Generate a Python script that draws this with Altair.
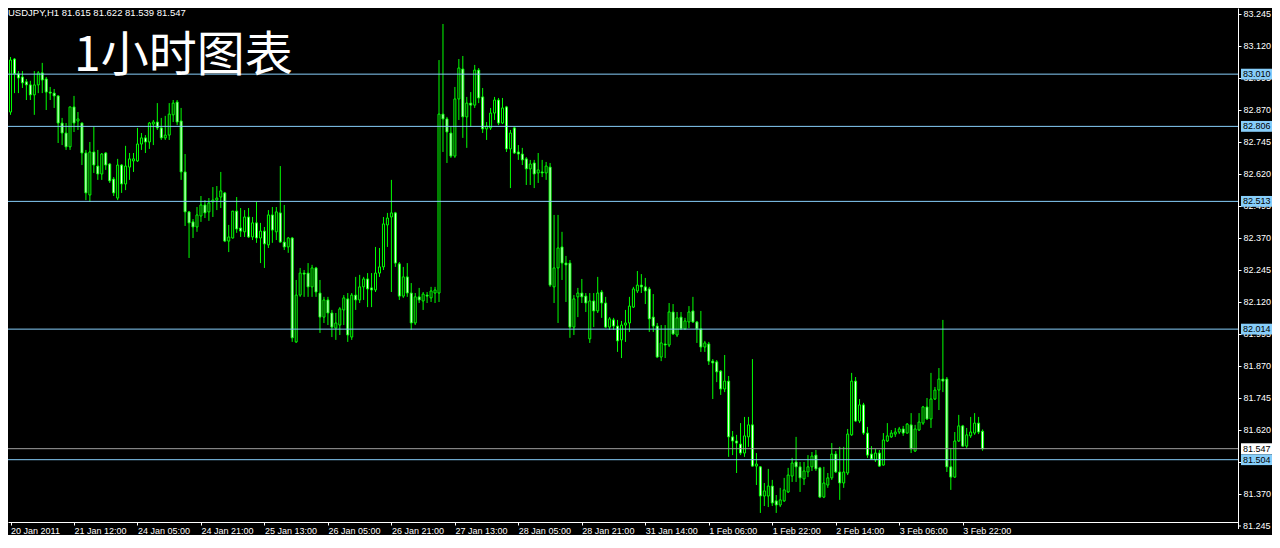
import altair as alt
import pandas as pd

# ---------------- data ----------------
symbol_header = "USDJPY,H1  81.615 81.622 81.539 81.547"
big_title = "1小时图表"

open_ = [82.862, 83.069, 83.011, 82.999, 82.980, 82.968, 82.929, 82.968, 83.015, 82.991,
         82.940, 82.936, 82.925, 82.819, 82.780, 82.726, 82.882, 82.827, 82.819, 82.702,
         82.538, 82.706, 82.651, 82.620, 82.702, 82.659, 82.600, 82.526, 82.655, 82.581,
         82.647, 82.671, 82.671, 82.737, 82.761, 82.745, 82.815, 82.823, 82.800, 82.761,
         82.772, 82.851, 82.901, 82.827, 82.628, 82.472, 82.433, 82.413, 82.456, 82.499,
         82.472, 82.511, 82.518, 82.530, 82.546, 82.358, 82.370, 82.475, 82.409, 82.394,
         82.452, 82.374, 82.429, 82.370, 82.397, 82.343, 82.460, 82.394, 82.468, 82.354,
         82.335, 82.370, 81.964, 82.147, 82.233, 82.233, 82.179, 82.253, 82.155, 82.061,
         82.128, 82.077, 82.018, 82.030, 82.089, 82.132, 81.983, 82.147, 82.128, 82.179,
         82.210, 82.175, 82.167, 82.233, 82.257, 82.421, 82.452, 82.468, 82.269, 82.143,
         82.218, 82.155, 82.038, 82.140, 82.124, 82.147, 82.136, 82.155, 82.155, 82.854,
         82.835, 82.780, 82.690, 82.913, 83.030, 82.843, 82.897, 82.889, 83.026, 82.921,
         82.796, 82.800, 82.858, 82.909, 82.819, 82.882, 82.718, 82.800, 82.706, 82.698,
         82.679, 82.640, 82.663, 82.624, 82.628, 82.624, 82.647, 82.179, 82.253, 82.335,
         82.272, 82.272, 82.022, 82.140, 82.155, 82.143, 81.976, 82.124, 82.085, 82.159,
         82.116, 82.022, 82.050, 82.026, 81.972, 82.030, 82.038, 82.100, 82.163, 82.186,
         82.179, 82.171, 82.061, 82.026, 81.905, 81.956, 81.952, 82.081, 81.991, 82.061,
         82.015, 82.042, 82.085, 82.042, 82.015, 81.944, 81.956, 81.889, 81.886, 81.850,
         81.780, 81.811, 81.593, 81.577, 81.565, 81.530, 81.593, 81.640, 81.479, 81.476,
         81.362, 81.362, 81.401, 81.343, 81.327, 81.343, 81.378, 81.440, 81.495, 81.476,
         81.429, 81.456, 81.476, 81.522, 81.472, 81.358, 81.405, 81.433, 81.526, 81.456,
         81.413, 81.452, 81.601, 81.811, 81.655, 81.718, 81.608, 81.526, 81.503, 81.530,
         81.483, 81.577, 81.593, 81.604, 81.612, 81.624, 81.608, 81.640, 81.538, 81.620,
         81.647, 81.710, 81.663, 81.741, 81.776, 81.819, 81.819, 81.476, 81.436, 81.577,
         81.636, 81.557, 81.597, 81.608, 81.647, 81.615]

high = [83.077, 83.073, 83.022, 83.022, 82.991, 82.984, 83.022, 83.022, 83.054, 82.999,
        82.960, 82.952, 82.927, 82.839, 82.819, 82.882, 82.925, 82.862, 82.821, 82.714,
        82.745, 82.804, 82.714, 82.702, 82.706, 82.663, 82.608, 82.679, 82.659, 82.730,
        82.702, 82.702, 82.800, 82.780, 82.772, 82.823, 82.831, 82.897, 82.839, 82.847,
        82.897, 82.909, 82.909, 82.878, 82.698, 82.475, 82.444, 82.491, 82.534, 82.518,
        82.526, 82.569, 82.573, 82.628, 82.550, 82.421, 82.475, 82.530, 82.487, 82.479,
        82.487, 82.452, 82.511, 82.429, 82.413, 82.479, 82.491, 82.491, 82.651, 82.499,
        82.374, 82.374, 82.206, 82.253, 82.245, 82.272, 82.265, 82.257, 82.206, 82.140,
        82.140, 82.089, 82.077, 82.100, 82.147, 82.155, 82.155, 82.218, 82.226, 82.218,
        82.233, 82.233, 82.335, 82.331, 82.452, 82.468, 82.597, 82.472, 82.276, 82.257,
        82.272, 82.194, 82.155, 82.175, 82.159, 82.159, 82.179, 82.179, 83.065, 83.206,
        82.843, 82.804, 82.960, 83.069, 83.081, 82.921, 82.940, 83.046, 83.034, 82.956,
        82.823, 82.878, 82.921, 82.917, 82.917, 82.886, 82.792, 82.804, 82.733, 82.722,
        82.686, 82.675, 82.675, 82.702, 82.675, 82.667, 82.663, 82.460, 82.460, 82.394,
        82.300, 82.284, 82.147, 82.175, 82.210, 82.155, 82.155, 82.155, 82.218, 82.167,
        82.140, 82.061, 82.058, 82.050, 82.046, 82.089, 82.140, 82.179, 82.241, 82.229,
        82.214, 82.179, 82.151, 82.038, 82.030, 82.030, 82.116, 82.112, 82.081, 82.081,
        82.058, 82.104, 82.140, 82.046, 82.085, 81.968, 81.964, 81.897, 81.893, 81.854,
        81.913, 81.831, 81.616, 81.601, 81.647, 81.671, 81.671, 81.897, 81.530, 81.479,
        81.413, 81.468, 81.425, 81.366, 81.394, 81.433, 81.472, 81.511, 81.593, 81.495,
        81.495, 81.522, 81.534, 81.542, 81.476, 81.476, 81.452, 81.569, 81.538, 81.554,
        81.554, 81.624, 81.843, 81.827, 81.741, 81.726, 81.632, 81.557, 81.546, 81.542,
        81.608, 81.647, 81.620, 81.628, 81.632, 81.636, 81.647, 81.686, 81.640, 81.686,
        81.714, 81.745, 81.843, 81.788, 81.862, 82.050, 81.827, 81.550, 81.612, 81.679,
        81.640, 81.628, 81.671, 81.686, 81.671, 81.622]

low = [82.851, 82.936, 82.936, 82.956, 82.909, 82.909, 82.851, 82.936, 82.936, 82.870,
       82.909, 82.878, 82.741, 82.733, 82.714, 82.714, 82.784, 82.792, 82.655, 82.518,
       82.511, 82.624, 82.597, 82.597, 82.636, 82.585, 82.534, 82.518, 82.546, 82.557,
       82.597, 82.628, 82.667, 82.714, 82.702, 82.718, 82.733, 82.792, 82.753, 82.753,
       82.753, 82.823, 82.811, 82.597, 82.417, 82.292, 82.370, 82.394, 82.433, 82.448,
       82.437, 82.452, 82.479, 82.487, 82.354, 82.315, 82.368, 82.390, 82.374, 82.374,
       82.370, 82.362, 82.351, 82.272, 82.253, 82.331, 82.351, 82.362, 82.351, 82.323,
       82.312, 81.964, 81.960, 82.140, 82.140, 82.140, 82.140, 82.140, 81.999, 82.038,
       82.030, 81.983, 81.972, 81.991, 82.030, 81.964, 81.972, 82.089, 82.116, 82.128,
       82.100, 82.100, 82.159, 82.218, 82.245, 82.335, 82.159, 82.257, 82.128, 82.136,
       82.140, 82.011, 82.030, 82.116, 82.089, 82.116, 82.120, 82.116, 82.120, 82.706,
       82.663, 82.683, 82.683, 82.831, 82.761, 82.722, 82.804, 82.878, 82.897, 82.780,
       82.753, 82.792, 82.831, 82.811, 82.815, 82.706, 82.565, 82.698, 82.675, 82.655,
       82.577, 82.577, 82.565, 82.585, 82.608, 82.597, 82.179, 82.116, 82.038, 82.206,
       82.120, 81.980, 81.991, 82.061, 82.116, 82.081, 81.960, 82.022, 82.077, 82.058,
       82.018, 82.011, 82.011, 81.925, 81.901, 81.964, 82.003, 82.097, 82.155, 82.155,
       82.112, 82.003, 82.003, 81.901, 81.889, 81.901, 81.944, 81.991, 81.983, 82.011,
       82.011, 82.018, 82.038, 81.960, 81.925, 81.925, 81.874, 81.741, 81.807, 81.757,
       81.768, 81.515, 81.522, 81.452, 81.522, 81.515, 81.554, 81.476, 81.405, 81.296,
       81.323, 81.319, 81.323, 81.296, 81.319, 81.339, 81.374, 81.417, 81.417, 81.378,
       81.405, 81.436, 81.460, 81.460, 81.354, 81.354, 81.394, 81.425, 81.452, 81.347,
       81.394, 81.444, 81.597, 81.651, 81.647, 81.601, 81.511, 81.503, 81.495, 81.476,
       81.481, 81.573, 81.589, 81.593, 81.604, 81.597, 81.606, 81.530, 81.534, 81.616,
       81.640, 81.659, 81.628, 81.737, 81.698, 81.768, 81.456, 81.386, 81.433, 81.573,
       81.554, 81.550, 81.589, 81.601, 81.604, 81.539]

close = [83.065, 83.011, 82.995, 82.976, 82.968, 82.929, 82.968, 83.015, 82.987, 82.940,
         82.936, 82.925, 82.819, 82.780, 82.726, 82.882, 82.819, 82.835, 82.702, 82.546,
         82.706, 82.655, 82.620, 82.698, 82.655, 82.593, 82.546, 82.655, 82.581, 82.651,
         82.679, 82.679, 82.737, 82.761, 82.745, 82.819, 82.823, 82.800, 82.761, 82.772,
         82.854, 82.897, 82.823, 82.628, 82.472, 82.429, 82.413, 82.460, 82.499, 82.468,
         82.507, 82.518, 82.526, 82.554, 82.358, 82.374, 82.475, 82.405, 82.397, 82.452,
         82.374, 82.429, 82.370, 82.397, 82.347, 82.460, 82.401, 82.472, 82.354, 82.335,
         82.370, 81.980, 82.147, 82.233, 82.229, 82.179, 82.253, 82.159, 82.061, 82.128,
         82.077, 82.022, 82.038, 82.093, 82.136, 81.991, 82.147, 82.128, 82.179, 82.210,
         82.171, 82.167, 82.233, 82.257, 82.425, 82.448, 82.468, 82.272, 82.143, 82.218,
         82.155, 82.038, 82.140, 82.128, 82.151, 82.143, 82.163, 82.167, 82.854, 82.835,
         82.784, 82.690, 82.913, 83.034, 82.843, 82.897, 82.889, 83.026, 82.917, 82.796,
         82.807, 82.858, 82.909, 82.819, 82.878, 82.718, 82.780, 82.702, 82.698, 82.675,
         82.640, 82.659, 82.620, 82.636, 82.624, 82.651, 82.186, 82.253, 82.331, 82.272,
         82.265, 82.022, 82.132, 82.155, 82.140, 82.116, 82.124, 82.085, 82.155, 82.116,
         82.022, 82.054, 82.026, 81.968, 82.030, 82.038, 82.104, 82.171, 82.186, 82.179,
         82.163, 82.054, 82.026, 81.905, 81.960, 81.952, 82.081, 81.995, 82.058, 82.015,
         82.046, 82.081, 82.042, 82.015, 81.944, 81.960, 81.889, 81.882, 81.847, 81.780,
         81.811, 81.593, 81.577, 81.569, 81.530, 81.597, 81.640, 81.479, 81.487, 81.362,
         81.382, 81.401, 81.335, 81.327, 81.347, 81.386, 81.444, 81.491, 81.476, 81.433,
         81.460, 81.476, 81.518, 81.468, 81.358, 81.413, 81.433, 81.526, 81.456, 81.413,
         81.456, 81.604, 81.811, 81.655, 81.718, 81.608, 81.522, 81.507, 81.530, 81.479,
         81.581, 81.597, 81.608, 81.612, 81.624, 81.608, 81.643, 81.546, 81.624, 81.651,
         81.710, 81.663, 81.741, 81.776, 81.819, 81.811, 81.476, 81.436, 81.577, 81.636,
         81.557, 81.601, 81.612, 81.647, 81.612, 81.547]

# bar index of each bottom label, and the label texts
x_tick_bars = [0, 16, 32, 48, 64, 80, 96, 112, 128, 144, 160, 176, 192, 208, 224, 240]
x_tick_labels = ["20 Jan 2011", "21 Jan 12:00", "24 Jan 05:00", "24 Jan 21:00",
                 "25 Jan 13:00", "26 Jan 05:00", "26 Jan 21:00", "27 Jan 13:00",
                 "28 Jan 05:00", "28 Jan 21:00", "31 Jan 14:00", "1 Feb 06:00",
                 "1 Feb 22:00", "2 Feb 14:00", "3 Feb 06:00", "3 Feb 22:00"]

y_ticks = [83.245, 83.120, 82.995, 82.870, 82.745, 82.620, 82.495, 82.370, 82.245,
           82.120, 81.995, 81.870, 81.745, 81.620, 81.495, 81.370]
y_tick_bottom = [81.245]   # lowest price label, sits just below the plot frame

levels = [83.010, 82.806, 82.513, 82.014, 81.504]
bid_price = [81.547]

# ---------------- chart ----------------
LIME = "#00ff00"
LEVEL_BLUE = "#87cefa"
FONT = "Liberation Sans"
W, H = 1230, 514          # plot area; whole svg = 1264 x 527 (fits page without overflow)

df = pd.DataFrame({"i": list(range(len(open_))), "open": open_, "high": high,
                   "low": low, "close": close})
lv = pd.DataFrame({"price": levels})
bid = pd.DataFrame({"price": bid_price})
low_tick = pd.DataFrame({"price": y_tick_bottom})

xscale = alt.Scale(domain=[0.625, 308.125], nice=False, zero=False)
yscale = alt.Scale(domain=[81.2606, 83.2684], nice=False, zero=False)

label_expr = "[" + ",".join("'" + s + "'" for s in x_tick_labels) + "][round(datum.value/16)]"

x_axis = alt.Axis(values=x_tick_bars, labelExpr=label_expr, orient="bottom", title=None,
                  grid=False, domainColor="white", domainWidth=1, tickColor="white",
                  tickWidth=1, tickSize=3, labelColor="white", labelFont=FONT,
                  labelFontSize=9, labelAlign="left", labelBaseline="top",
                  labelPadding=1, labelOverlap=False, labelFlush=False)
y_axis = alt.Axis(values=y_ticks, format=".3f", orient="right", title=None, grid=False,
                  domainColor="white", domainWidth=1, tickColor="white", tickWidth=1,
                  tickSize=3, labelColor="white", labelFont=FONT, labelFontSize=9,
                  labelAlign="left", labelBaseline="middle", labelPadding=2,
                  labelOverlap=False, labelFlush=False)


def X():
    return alt.X("i:Q", scale=xscale, axis=x_axis)


def Y(field):
    return alt.Y(field + ":Q", scale=yscale, axis=y_axis)


base = alt.Chart(df)
wicks = base.mark_rule(color=LIME, strokeWidth=1).encode(x=X(), y=Y("low"), y2="high:Q")
bodies = base.mark_bar(size=2, stroke=LIME, strokeWidth=1, opacity=1).encode(
    x=X(), y=Y("open"), y2="close:Q",
    fill=alt.condition("datum.close > datum.open", alt.value("black"), alt.value("white")))

level_lines = alt.Chart(lv).mark_rule(color=LEVEL_BLUE, strokeWidth=1).encode(y=Y("price"))
bid_line = alt.Chart(bid).mark_rule(color="#a0a0a0", strokeWidth=1).encode(y=Y("price"))

BOX = "M-1,-0.35L1,-0.35L1,0.35L-1,0.35Z"
BOX_SIZE = 31 * 31
BOX_X = 1248.5
level_boxes = alt.Chart(lv).mark_point(shape=BOX, size=BOX_SIZE, filled=True, opacity=1,
                                       color=LEVEL_BLUE, strokeWidth=0).encode(
    x=alt.value(BOX_X), y=Y("price"))
bid_box = alt.Chart(bid).mark_point(shape=BOX, size=BOX_SIZE, filled=True, opacity=1,
                                    color="white", strokeWidth=0).encode(
    x=alt.value(BOX_X), y=Y("price"))
level_text = alt.Chart(lv).mark_text(align="left", baseline="middle", font=FONT,
                                     fontSize=9, color="black").encode(
    x=alt.value(1235), y=Y("price"), text=alt.Text("price:Q", format=".3f"))
bid_text = alt.Chart(bid).mark_text(align="left", baseline="middle", font=FONT,
                                    fontSize=9, color="black").encode(
    x=alt.value(1235), y=Y("price"), text=alt.Text("price:Q", format=".3f"))

# right frame continues a little below the plot, with the lowest price tick
frame_ext = alt.Chart(low_tick).mark_rule(color="white", strokeWidth=1).encode(
    x=alt.value(1230.5), y=alt.value(513), y2=alt.value(521))
low_tick_mark = alt.Chart(low_tick).mark_rule(color="white", strokeWidth=1).encode(
    x=alt.value(1230), x2=alt.value(1233), y=Y("price"))
low_tick_text = alt.Chart(low_tick).mark_text(align="left", baseline="middle", font=FONT,
                                              fontSize=9, color="white").encode(
    x=alt.value(1235), y=Y("price"), text=alt.Text("price:Q", format=".3f"))

header = alt.Chart(pd.DataFrame({"t": [symbol_header]})).mark_text(
    align="left", baseline="top", font=FONT, fontSize=9.5, color="white").encode(
    x=alt.value(0), y=alt.value(0), text="t:N")
title = alt.Chart(pd.DataFrame({"t": [big_title]})).mark_text(
    align="left", baseline="alphabetic", font="Noto Sans CJK SC", fontSize=48,
    color="white").encode(x=alt.value(66), y=alt.value(63), text="t:N")

chart = alt.layer(
    wicks, bodies, level_lines, bid_line, level_boxes, bid_box, level_text, bid_text,
    frame_ext, low_tick_mark, low_tick_text, header, title
).properties(
    width=W, height=H,
    autosize=alt.AutoSizeParams(type="none"),
    padding={"left": 0, "top": 0, "right": 34, "bottom": 13},
).configure(background="black").configure_view(strokeWidth=0)

chart.save("out.html", embed_options={"renderer": "svg", "actions": False})
